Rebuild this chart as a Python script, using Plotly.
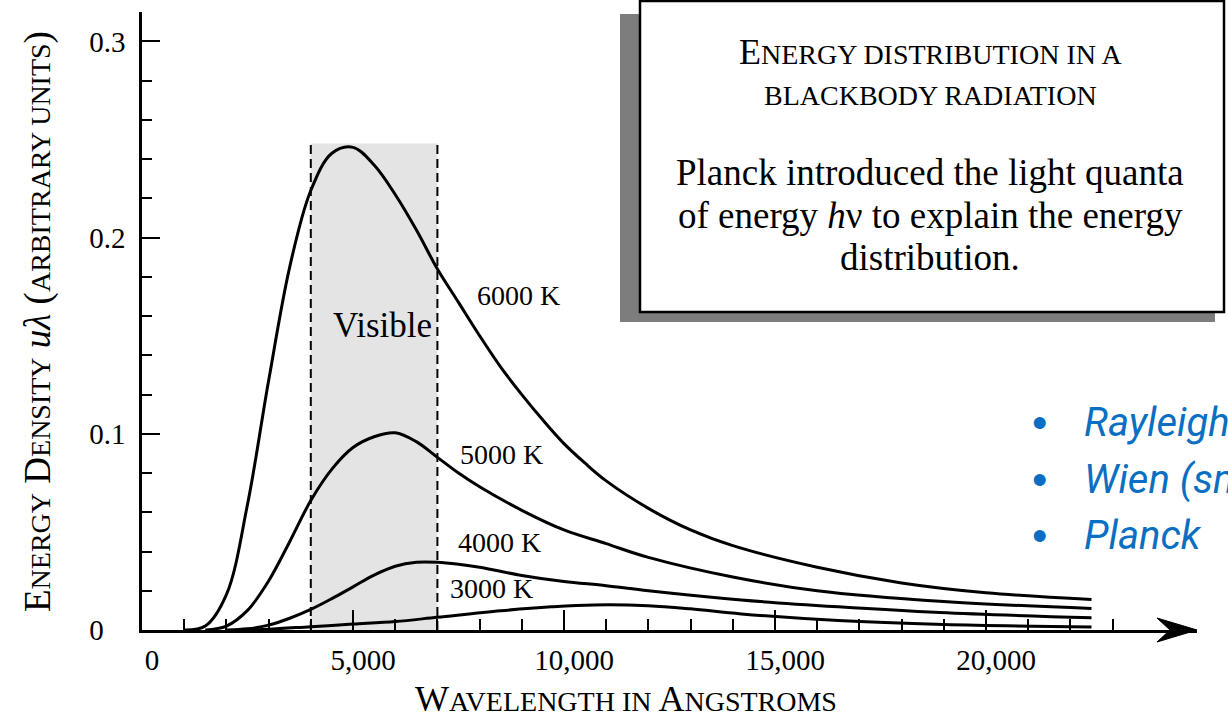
import plotly.graph_objects as go

# ---------------- data ----------------
wl_6000 = [1000, 1500, 2000, 2500, 3000, 3500, 4000, 4500, 5000, 5500, 6000, 6500, 7000, 7500,
           8000, 8500, 9000, 9500, 10000, 10500, 11000, 12000, 13000, 14000, 16000, 18000,
           20000, 22500]
u_6000 = [0.000, 0.002, 0.018, 0.064, 0.127, 0.185, 0.224, 0.243, 0.246, 0.237, 0.222, 0.204,
          0.184, 0.167, 0.150, 0.134, 0.120, 0.107, 0.095, 0.085, 0.076, 0.062, 0.051, 0.043,
          0.032, 0.024, 0.019, 0.0155]

wl_5000 = [1500, 2000, 2500, 3000, 3500, 4000, 4500, 5000, 5500, 6000, 6500, 7000, 7500, 8000,
           9000, 10000, 11000, 12000, 14000, 16000, 19000, 22500]
u_5000 = [0.000, 0.002, 0.010, 0.025, 0.045, 0.066, 0.082, 0.093, 0.0985, 0.1005, 0.096, 0.088,
          0.080, 0.073, 0.061, 0.051, 0.044, 0.037, 0.027, 0.020, 0.0145, 0.011]

wl_4000 = [2000, 2500, 3000, 3500, 4000, 4500, 5000, 5500, 6000, 6500, 7000, 7500, 8000, 9000,
           10000, 11000, 12000, 14200, 16500, 18900, 22500]
u_4000 = [0.000, 0.0006, 0.0025, 0.006, 0.0105, 0.016, 0.022, 0.028, 0.0325, 0.0345, 0.0345,
          0.0335, 0.032, 0.0278, 0.0247, 0.0226, 0.0200, 0.0153, 0.0118, 0.0089, 0.0062]

wl_3000 = [2500, 3000, 4000, 5000, 6000, 7000, 8500, 9700, 10700, 12000, 13000, 14200,
           16500, 19000, 22500]
u_3000 = [0.000, 0.0004, 0.0017, 0.003, 0.0043, 0.0065, 0.0098, 0.0118, 0.0128, 0.0124,
          0.0108, 0.0082, 0.0048, 0.0028, 0.0015]

curve_names = ["6000 K", "5000 K", "4000 K", "3000 K"]
visible_band = [4000, 7000]      # Angstrom
visible_top = 0.248

x_tick_vals = [0, 5000, 10000, 15000, 20000]
x_tick_text = ["0", "5,000", "10,000", "15,000", "20,000"]
x_minor_vals = [1000, 2000, 3000, 4000, 6000, 7000, 8000, 9000, 11000, 12000, 13000, 14000,
                16000, 17000, 18000, 19000, 21000, 22000, 23000]
y_tick_vals = [0, 0.1, 0.2, 0.3]
y_tick_text = ["0\u2007\u2008", "0.1", "0.2", "0.3"]
y_minor_vals = [0.02, 0.04, 0.06, 0.08, 0.12, 0.14, 0.16, 0.18, 0.22, 0.24, 0.26, 0.28]

bullet_items = ["Rayleigh-Jeans", "Wien (small \u03bb)", "Planck"]

# ---------------- layout geometry ----------------
W, H = 1228, 723
L, R, T, B = 142, 31, 12, 93
PW, PH = W - L - R, H - T - B


def px(x):
    return (x - L) / PW


def py(y):
    return (H - B - y) / PH


SERIF = "Liberation Serif, Times New Roman, serif"
BLUE = "#0a6fc2"

fig = go.Figure()

curves = [(wl_6000, u_6000), (wl_5000, u_5000), (wl_4000, u_4000), (wl_3000, u_3000)]
for (wl, u), name in zip(curves, curve_names):
    fig.add_trace(go.Scatter(x=wl, y=u, mode="lines", name=name,
                             line=dict(color="black", width=3, shape="spline", smoothing=1.0),
                             hoverinfo="skip", showlegend=False))

shapes = []
# visible band
shapes.append(dict(type="rect", xref="x", yref="y", x0=visible_band[0], x1=visible_band[1],
                   y0=0, y1=visible_top, fillcolor="#e4e4e4", line=dict(width=0), layer="below"))
for xv in visible_band:
    shapes.append(dict(type="line", xref="x", yref="y", x0=xv, x1=xv, y0=0, y1=visible_top,
                       line=dict(color="black", width=2, dash="9px,5px"), layer="below"))
# arrow head on x axis
shapes.append(dict(type="path", xref="paper", yref="paper", xsizemode="pixel", ysizemode="pixel",
                   xanchor=1.0, yanchor=0.0, path="M 0 0 L -40 12 L -27 0 L -40 -12 Z",
                   fillcolor="black", line=dict(color="black", width=1)))
# text box with shadow
shapes.append(dict(type="rect", xref="paper", yref="paper", x0=px(620), x1=px(1215),
                   y0=py(322), y1=py(14), fillcolor="#7d7d7d", line=dict(width=0)))
shapes.append(dict(type="rect", xref="paper", yref="paper", x0=px(640), x1=px(1224),
                   y0=py(312), y1=py(1), fillcolor="white", line=dict(color="black", width=2.5)))

ann = []
SC = "<span style='font-size:%dpx'>%s</span>"
# axis titles
ann.append(dict(xref="paper", yref="paper", x=px(38), y=py(322), textangle=-90,
                text="E" + SC % (28, "NERGY") + " D" + SC % (28, "ENSITY") + " <i>u\u03bb</i> ("
                     + SC % (28, "ARBITRARY UNITS") + ")",
                font=dict(family=SERIF, size=37, color="black"), showarrow=False,
                xanchor="center", yanchor="middle"))
ann.append(dict(xref="paper", yref="paper", x=px(626), y=py(699),
                text="W" + SC % (28, "AVELENGTH IN") + " A" + SC % (28, "NGSTROMS"),
                font=dict(family=SERIF, size=36, color="black"), showarrow=False,
                xanchor="center", yanchor="middle"))
# curve labels
label_pos = [(8910, 0.1707), (8530, 0.0895), (8460, 0.0448), (8290, 0.0214)]
for name, (lx, ly) in zip(curve_names, label_pos):
    ann.append(dict(x=lx, y=ly, xref="x", yref="y", text=name, showarrow=False,
                    font=dict(family=SERIF, size=28, color="black"), xanchor="center",
                    yanchor="middle"))
ann.append(dict(x=5710, y=0.155, xref="x", yref="y", text="Visible", showarrow=False,
                font=dict(family=SERIF, size=35, color="black"), xanchor="center",
                yanchor="middle"))
# box text
box_lines = [
    ("E" + SC % (28, "NERGY DISTRIBUTION IN A"), 52, 36),
    (SC % (28, "BLACKBODY RADIATION"), 95, 36),
    ("Planck introduced the light quanta", 172, 37),
    ("of energy <i>h</i>\u03bd to explain the energy", 215, 37),
    ("distribution.", 257, 37),
]
for txt, yy, sz in box_lines:
    ann.append(dict(xref="paper", yref="paper", x=px(930), y=py(yy), text=txt, showarrow=False,
                    font=dict(family=SERIF, size=sz, color="black"), xanchor="center",
                    yanchor="middle"))
# blue bullet list
for i, item in enumerate(bullet_items):
    yy = 423 + 56 * i
    ann.append(dict(xref="paper", yref="paper", x=px(1039), y=py(yy), text="\u2022",
                    showarrow=False, font=dict(family="Liberation Sans, Arial, sans-serif",
                                               size=44, color=BLUE),
                    xanchor="center", yanchor="middle"))
    ann.append(dict(xref="paper", yref="paper", x=px(1082), y=py(yy), text=item,
                    showarrow=False,
                    font=dict(family="Roboto, sans-serif", size=40, color=BLUE, style="italic"),
                    xanchor="left", yanchor="middle"))

axis_common = dict(showline=True, linecolor="black", linewidth=2.5, ticks="inside",
                   tickcolor="black", tickwidth=2, showgrid=False, zeroline=False,
                   tickfont=dict(family=SERIF, size=29, color="black"))

fig.update_layout(
    width=W, height=H, margin=dict(l=L, r=R, t=T, b=B, autoexpand=False),
    paper_bgcolor="white", plot_bgcolor="white", showlegend=False,
    font=dict(family=SERIF, color="black"),
    xaxis=dict(range=[0, 25000], tickmode="array", tickvals=x_tick_vals, ticktext=x_tick_text,
               ticklen=20, ticklabelshift=10, ticklabelstandoff=2,
               minor=dict(tickmode="array", tickvals=x_minor_vals, ticks="inside", ticklen=11,
                          tickwidth=2, tickcolor="black", showgrid=False),
               **axis_common),
    yaxis=dict(range=[0, 0.315], tickmode="array", tickvals=y_tick_vals, ticktext=y_tick_text,
               ticklen=18, ticklabelstandoff=8,
               minor=dict(tickmode="array", tickvals=y_minor_vals, ticks="inside", ticklen=10,
                          tickwidth=2, tickcolor="black", showgrid=False),
               **axis_common),
    shapes=shapes, annotations=ann,
)

fig.write_html("out.html", config={"displayModeBar": False},
               post_script="document.body.style.margin='0';document.body.style.overflow='hidden';")
